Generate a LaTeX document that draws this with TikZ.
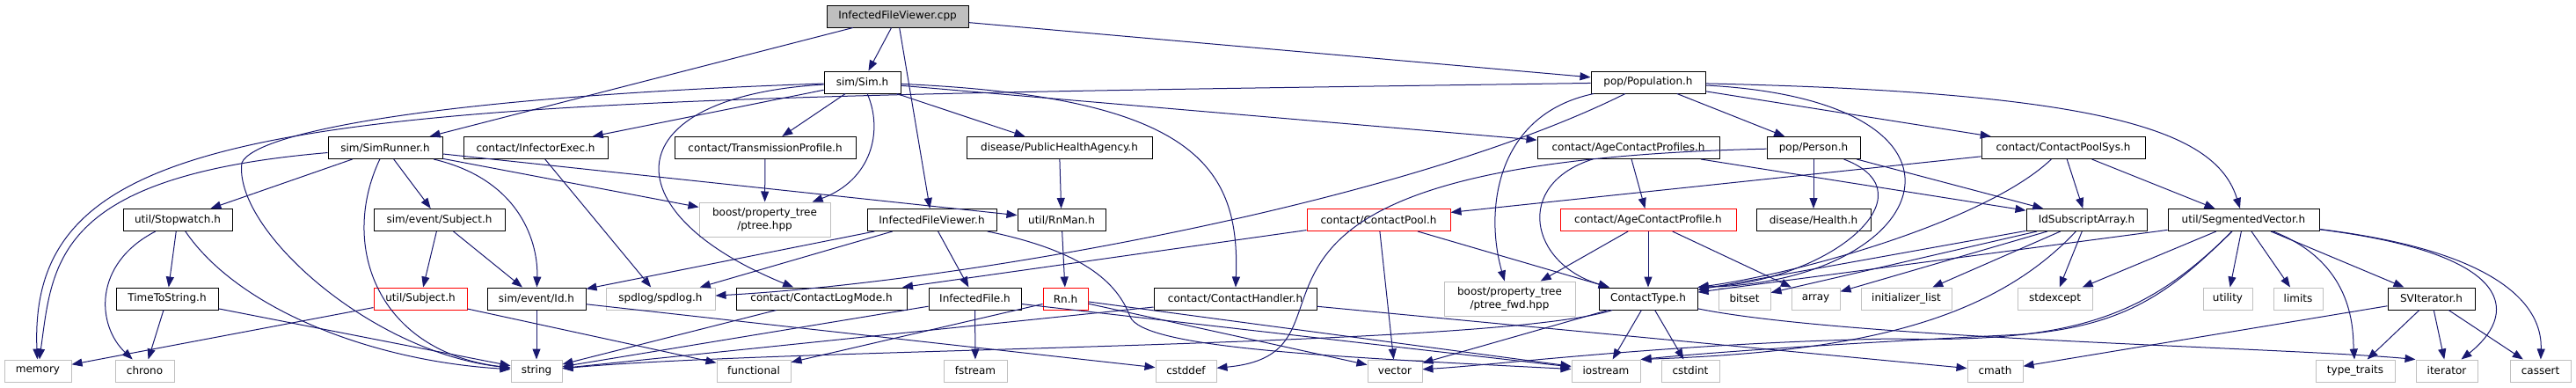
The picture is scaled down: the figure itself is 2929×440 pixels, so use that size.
\documentclass[tikz,border=0pt]{standalone}
\usepackage{fontspec}
\setmainfont{DejaVu Sans}
\usepackage{tikz}
\usetikzlibrary{arrows.meta}
\definecolor{edgeblue}{HTML}{191970}
\definecolor{sysgray}{HTML}{BFBFBF}

\begin{document}
\begin{tikzpicture}[x=1pt, y=-1pt,
    hdr/.style={rectangle, draw=black, fill=white, line width=1pt, minimum height=25pt, inner sep=0pt, align=center, font=\fontsize{12}{15}\selectfont},
    syshdr/.style={hdr, draw=sysgray},
    redhdr/.style={hdr, draw=red},
    root/.style={hdr, fill=sysgray},
    dep/.style={-{Triangle[length=12pt,width=9pt]}, edgeblue, line width=1pt}
]
    \fill[white] (0,0) rectangle (2929,440);

    % Nodes
    \node[root, minimum width=161pt] (cpp) at (1020.5,18.5) {InfectedFileViewer.cpp};

    \node[hdr, minimum width=87pt] (sim) at (980.5,93.5) {sim/Sim.h};
    \node[hdr, minimum width=130pt] (pop) at (1874,93.5) {pop/Population.h};

    \node[hdr, minimum width=130pt] (simrunner) at (438,168) {sim/SimRunner.h};
    \node[hdr, minimum width=164pt] (infector) at (609,168) {contact/InfectorExec.h};
    \node[hdr, minimum width=206pt] (transprof) at (870,168) {contact/TransmissionProfile.h};
    \node[hdr, minimum width=211pt] (pha) at (1204.5,168) {disease/PublicHealthAgency.h};
    \node[hdr, minimum width=207pt] (ageprofs) at (1851.5,168) {contact/AgeContactProfiles.h};
    \node[hdr, minimum width=106pt] (person) at (2062,168) {pop/Person.h};
    \node[hdr, minimum width=186pt] (poolsys) at (2346,168) {contact/ContactPoolSys.h};

    \node[hdr, minimum width=124pt] (stopwatch) at (202,250) {util/Stopwatch.h};
    \node[hdr, minimum width=149pt] (evsubject) at (499.5,250) {sim/event/Subject.h};
    \node[syshdr, minimum width=149pt, minimum height=39pt] (ptree) at (869.5,249.5) {boost/property\_tree\\/ptree.hpp};
    \node[hdr, minimum width=147pt] (ifvh) at (1059.5,250) {InfectedFileViewer.h};
    \node[hdr, minimum width=100pt] (rnman) at (1207,250) {util/RnMan.h};
    \node[redhdr, minimum width=163pt] (pool) at (1567.5,250) {contact/ContactPool.h};
    \node[redhdr, minimum width=200pt] (ageprof) at (1874,250) {contact/AgeContactProfile.h};
    \node[hdr, minimum width=130pt] (health) at (2062,250) {disease/Health.h};
    \node[hdr, minimum width=137pt] (idsub) at (2372.5,250) {IdSubscriptArray.h};
    \node[hdr, minimum width=172pt] (segvec) at (2551,250) {util/SegmentedVector.h};

    \node[hdr, minimum width=116pt] (timetostr) at (190,339.5) {TimeToString.h};
    \node[redhdr, minimum width=106pt] (utilsubject) at (478,339.5) {util/Subject.h};
    \node[hdr, minimum width=112pt] (evid) at (610,339.5) {sim/event/Id.h};
    \node[syshdr, minimum width=124pt] (spdlog) at (751,339.5) {spdlog/spdlog.h};
    \node[hdr, minimum width=194pt] (logmode) at (934,339.5) {contact/ContactLogMode.h};
    \node[hdr, minimum width=105pt] (infile) at (1108.5,339.5) {InfectedFile.h};
    \node[redhdr, minimum width=51pt] (rn) at (1211.5,339.5) {Rn.h};
    \node[hdr, minimum width=185pt] (handler) at (1404.5,339.5) {contact/ContactHandler.h};
    \node[syshdr, minimum width=149pt, minimum height=39pt] (ptreefwd) at (1716.5,339.5) {boost/property\_tree\\/ptree\_fwd.hpp};
    \node[hdr, minimum width=112pt] (ctype) at (1874,339.5) {ContactType.h};
    \node[syshdr, minimum width=59pt] (bitset) at (1983.5,339.5) {bitset};
    \node[syshdr, minimum width=55pt] (array) at (2064.5,339.5) {array};
    \node[syshdr, minimum width=103pt] (initlist) at (2167.5,339.5) {initializer\_list};
    \node[syshdr, minimum width=85pt] (stdexcept) at (2336.5,339.5) {stdexcept};
    \node[syshdr, minimum width=56pt] (utility) at (2533,339.5) {utility};
    \node[syshdr, minimum width=56pt] (limits) at (2613,339.5) {limits};
    \node[hdr, minimum width=99pt] (sviter) at (2764.5,339.5) {SVIterator.h};

    \node[syshdr, minimum width=76pt] (memory) at (43,421.5) {memory};
    \node[syshdr, minimum width=67pt] (chrono) at (164.5,421.5) {chrono};
    \node[syshdr, minimum width=58pt] (string) at (610,421.5) {string};
    \node[syshdr, minimum width=84pt] (functional) at (857,421.5) {functional};
    \node[syshdr, minimum width=72pt] (fstream) at (1109,421.5) {fstream};
    \node[syshdr, minimum width=69pt] (cstddef) at (1348.5,421.5) {cstddef};
    \node[syshdr, minimum width=62pt] (vector) at (1586,421.5) {vector};
    \node[syshdr, minimum width=78pt] (iostream) at (1826,421.5) {iostream};
    \node[syshdr, minimum width=66pt] (cstdint) at (1922,421.5) {cstdint};
    \node[syshdr, minimum width=63pt] (cmath) at (2268.5,421.5) {cmath};
    \node[syshdr, minimum width=90pt] (typetraits) at (2678,421.5) {type\_traits};
    \node[syshdr, minimum width=70pt] (iterator) at (2782,421.5) {iterator};
    \node[syshdr, minimum width=69pt] (cassert) at (2888.5,421.5) {cassert};

    % Arrows
    \draw[dep] (cpp) -- (sim);
    \draw[dep] (cpp) -- (simrunner);
    \draw[dep] (cpp) -- (ifvh);
    \draw[dep] (cpp) -- (pop);

    \draw[dep] (sim) .. controls (500,110) and (290,150) .. (275,185) .. controls (265,260) and (420,400) .. (string);
    \draw[dep] (sim) -- (infector);
    \draw[dep] (sim) -- (transprof);
    \draw[dep] (sim) .. controls (1005,150) and (990,205) .. (ptree);
    \draw[dep] (sim) .. controls (700,110) and (690,240) .. (logmode);
    \draw[dep] (sim) -- (pha);
    \draw[dep] (sim) -- (ageprofs);
    \draw[dep] (sim) .. controls (1360,110) and (1410,190) .. (handler);

    \draw[dep] (simrunner) .. controls (60,200) and (60,300) .. (memory);
    \draw[dep] (simrunner) -- (stopwatch);
    \draw[dep] (simrunner) .. controls (385,280) and (430,400) .. (string);
    \draw[dep] (simrunner) -- (evsubject);
    \draw[dep] (simrunner) .. controls (595,205) and (612,280) .. (evid);
    \draw[dep] (simrunner) -- (ptree);
    \draw[dep] (simrunner) -- (rnman);

    \draw[dep] (stopwatch) .. controls (105,300) and (110,370) .. (chrono);
    \draw[dep] (stopwatch) -- (timetostr);
    \draw[dep] (stopwatch) .. controls (270,350) and (420,410) .. (string);
    \draw[dep] (timetostr) -- (chrono);
    \draw[dep] (timetostr) -- (string);

    \draw[dep] (evsubject) -- (utilsubject);
    \draw[dep] (evsubject) -- (evid);
    \draw[dep] (utilsubject) -- (memory);
    \draw[dep] (utilsubject) -- (functional);
    \draw[dep] (evid) -- (string);
    \draw[dep] (evid) -- (cstddef);

    \draw[dep] (infector) -- (spdlog);
    \draw[dep] (transprof) -- (ptree);
    \draw[dep] (pha) -- (rnman);
    \draw[dep] (rnman) -- (rn);

    \draw[dep] (ifvh) -- (evid);
    \draw[dep] (ifvh) -- (spdlog);
    \draw[dep] (ifvh) -- (infile);
    \draw[dep] (ifvh) .. controls (1230,285) and (1270,320) .. (1285,360) .. controls (1300,395) and (1500,405) .. (iostream);

    \draw[dep] (infile) -- (string);
    \draw[dep] (infile) -- (fstream);
    \draw[dep] (infile) -- (iostream);
    \draw[dep] (rn) -- (functional);
    \draw[dep] (rn) -- (vector);
    \draw[dep] (rn) -- (iostream);
    \draw[dep] (logmode) -- (string);
    \draw[dep] (handler) -- (string);
    \draw[dep] (handler) -- (cmath);

    \draw[dep] (pop) .. controls (400,115) and (30,110) .. (memory);
    \draw[dep] (pop) .. controls (1600,230) and (1100,320) .. (spdlog);
    \draw[dep] (pop) .. controls (1700,130) and (1688,240) .. (ptreefwd);
    \draw[dep] (pop) -- (person);
    \draw[dep] (pop) -- (poolsys);
    \draw[dep] (pop) .. controls (2400,105) and (2520,150) .. (segvec);
    \draw[dep] (pop) .. controls (2280,115) and (2200,320) .. (ctype.north east);

    \draw[dep] (ageprofs) -- (ageprof);
    \draw[dep] (ageprofs) .. controls (1720,210) and (1740,300) .. (ctype);
    \draw[dep] (ageprofs) -- (idsub);

    \draw[dep] (person) -- (health);
    \draw[dep] (person) -- (idsub);
    \draw[dep] (person) .. controls (2200,220) and (2080,320) .. (ctype.north east);
    \draw[dep] (person) .. controls (1300,185) and (1580,400) .. (cstddef);

    \draw[dep] (poolsys) -- (pool);
    \draw[dep] (poolsys) .. controls (2260,250) and (2050,310) .. (ctype.north east);
    \draw[dep] (poolsys) -- (idsub);
    \draw[dep] (poolsys) -- (segvec);

    \draw[dep] (pool) -- (logmode);
    \draw[dep] (pool) -- (vector);
    \draw[dep] (pool) -- (ctype);
    \draw[dep] (ageprof) -- (ptreefwd);
    \draw[dep] (ageprof) -- (ctype);
    \draw[dep] (ageprof) -- (array);

    \draw[dep] (idsub) -- (ctype);
    \draw[dep] (idsub) -- (bitset);
    \draw[dep] (idsub) -- (array);
    \draw[dep] (idsub) -- (initlist);
    \draw[dep] (idsub) -- (stdexcept);
    \draw[dep] (idsub) .. controls (2260,370) and (2100,400) .. (iostream.north east);

    \draw[dep] (segvec) -- (ctype);
    \draw[dep] (segvec) -- (stdexcept);
    \draw[dep] (segvec) .. controls (2440,360) and (2360,390) .. (2150,385) .. controls (1900,390) and (1700,415) .. (vector);
    \draw[dep] (segvec) .. controls (2470,330) and (2420,370) .. (2300,380) .. controls (2100,390) and (1950,400) .. (iostream.north east);
    \draw[dep] (segvec) -- (utility);
    \draw[dep] (segvec) -- (limits);
    \draw[dep] (segvec) .. controls (2680,300) and (2675,380) .. (typetraits);
    \draw[dep] (segvec) -- (sviter);
    \draw[dep] (segvec) .. controls (2870,290) and (2860,360) .. (iterator);
    \draw[dep] (segvec) .. controls (2880,290) and (2890,370) .. (cassert);

    \draw[dep] (sviter) -- (cmath);
    \draw[dep] (sviter) -- (typetraits);
    \draw[dep] (sviter) -- (iterator);
    \draw[dep] (sviter) -- (cassert);

    \draw[dep] (ctype) .. controls (1700,395) and (900,395) .. (string);
    \draw[dep] (ctype) -- (vector);
    \draw[dep] (ctype) -- (iostream);
    \draw[dep] (ctype) -- (cstdint);
    \draw[dep] (ctype) .. controls (2100,385) and (2600,395) .. (iterator.north west);
\end{tikzpicture}
\end{document}
